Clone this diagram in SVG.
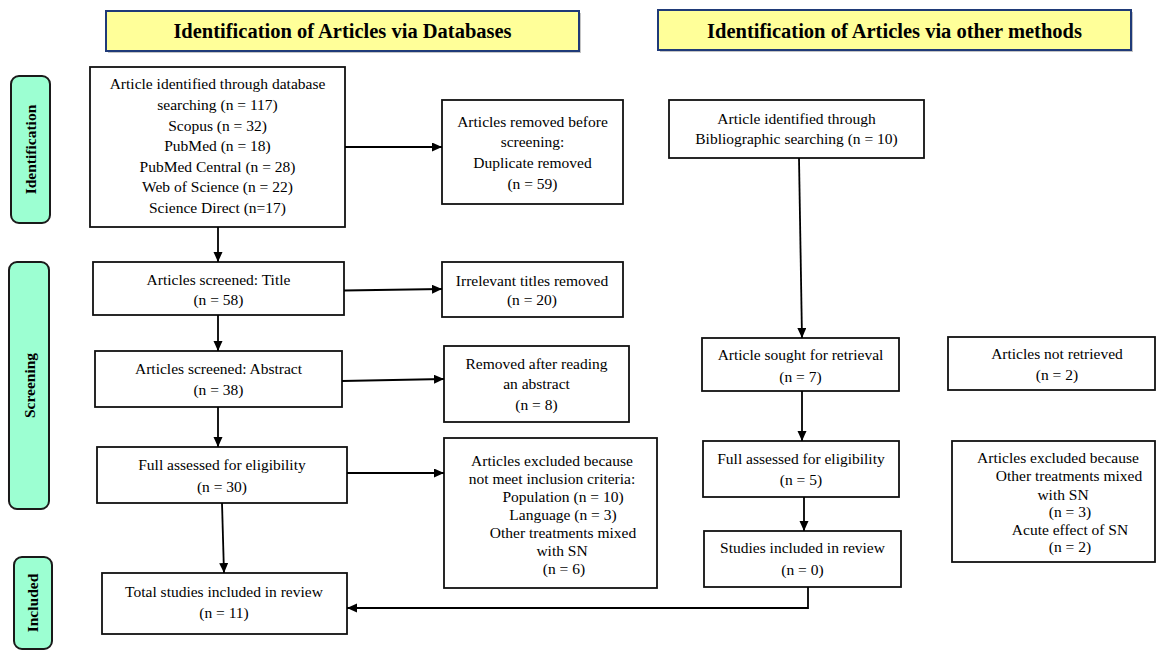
<svg xmlns="http://www.w3.org/2000/svg" width="1156" height="650" viewBox="0 0 1156 650">
<style>
text{font-family:"Liberation Serif","Times New Roman",serif;font-size:15.5px;fill:#000;text-anchor:middle}
.box{fill:#fff;stroke:#111;stroke-width:1.8}
.hdr{fill:#FFFF99;stroke:#1F3A78;stroke-width:2}
.hdrs{fill:#8a8a8a;opacity:0.5}
.hdrt{font-weight:bold;font-size:20.5px}
.lab{fill:#9CFFD2;stroke:#1a1a1a;stroke-width:2}
.labt{font-weight:bold;font-size:15.5px}
.con{fill:none;stroke:#000;stroke-width:1.8}
</style>
<defs>
<marker id="ah" markerUnits="userSpaceOnUse" markerWidth="11" markerHeight="10" refX="10" refY="4.5" orient="auto">
<path d="M0,0 L10,4.5 L0,9 z" fill="#000"/>
</marker>
</defs>

<g id="header-db">
<rect class="hdrs" x="108" y="13" width="473" height="40"/>
<rect class="hdr" x="106" y="11" width="473" height="40"/>
<text class="hdrt" x="342.5" y="38">Identification of Articles via Databases</text>
</g>
<g id="header-other">
<rect class="hdrs" x="660" y="12" width="473" height="40"/>
<rect class="hdr" x="658" y="10" width="473" height="40"/>
<text class="hdrt" x="894.5" y="37.5">Identification of Articles via other methods</text>
</g>

<g id="label-identification">
<rect class="lab" x="11" y="76" width="39" height="147" rx="8"/>
<text class="labt" transform="translate(36,149.5) rotate(-90)">Identification</text>
</g>
<g id="label-screening">
<rect class="lab" x="9" y="262" width="40" height="247" rx="8"/>
<text class="labt" transform="translate(35,385.5) rotate(-90)">Screening</text>
</g>
<g id="label-included">
<rect class="lab" x="14" y="557" width="38" height="92" rx="8"/>
<text class="labt" transform="translate(38,603) rotate(-90)">Included</text>
</g>

<g id="db-identified">
<rect class="box" x="90" y="67" width="255" height="160"/>
<text x="217.5" y="89">Article identified through database</text>
<text x="217.5" y="110">searching (n = 117)</text>
<text x="217.5" y="130.5">Scopus (n = 32)</text>
<text x="217.5" y="151">PubMed (n = 18)</text>
<text x="217.5" y="171.5">PubMed Central (n = 28)</text>
<text x="217.5" y="192">Web of Science (n = 22)</text>
<text x="217.5" y="212.5">Science Direct (n=17)</text>
</g>
<g id="removed-before">
<rect class="box" x="442" y="100" width="181" height="104"/>
<text x="532.5" y="127">Articles removed before</text>
<text x="532.5" y="147">screening:</text>
<text x="532.5" y="167.5">Duplicate removed</text>
<text x="532.5" y="188.5">(n = 59)</text>
</g>
<g id="biblio-identified">
<rect class="box" x="669" y="100" width="255" height="58"/>
<text x="796.5" y="124">Article identified through</text>
<text x="796.5" y="143.5">Bibliographic searching (n = 10)</text>
</g>
<g id="screened-title">
<rect class="box" x="93" y="262" width="251" height="53"/>
<text x="218.5" y="284.5">Articles screened: Title</text>
<text x="218.5" y="304.5">(n = 58)</text>
</g>
<g id="irrelevant-titles">
<rect class="box" x="442" y="262" width="181" height="55"/>
<text x="532" y="286">Irrelevant titles removed</text>
<text x="532" y="304.5">(n = 20)</text>
</g>
<g id="screened-abstract">
<rect class="box" x="95" y="351" width="247" height="56"/>
<text x="218.5" y="373.5">Articles screened: Abstract</text>
<text x="218.5" y="395">(n = 38)</text>
</g>
<g id="removed-abstract">
<rect class="box" x="444" y="346" width="185" height="76"/>
<text x="536.5" y="368.5">Removed after reading</text>
<text x="536.5" y="388.5">an abstract</text>
<text x="536.5" y="410">(n = 8)</text>
</g>
<g id="sought-retrieval">
<rect class="box" x="702" y="338" width="197" height="53"/>
<text x="800.5" y="360">Article sought for retrieval</text>
<text x="800.5" y="382">(n = 7)</text>
</g>
<g id="not-retrieved">
<rect class="box" x="948" y="337" width="207" height="53"/>
<text x="1057" y="359">Articles not retrieved</text>
<text x="1057" y="380">(n = 2)</text>
</g>
<g id="full-eligibility-db">
<rect class="box" x="97" y="447" width="250" height="56"/>
<text x="222" y="469.5">Full assessed for eligibility</text>
<text x="222" y="492">(n = 30)</text>
</g>
<g id="excluded-db">
<rect class="box" x="444" y="438" width="213" height="150"/>
<text x="552" y="466">Articles excluded because</text>
<text x="552" y="484">not meet inclusion criteria:</text>
<text x="563" y="502">Population (n = 10)</text>
<text x="563" y="520">Language (n = 3)</text>
<text x="563" y="538">Other treatments mixed</text>
<text x="562" y="556">with SN</text>
<text x="564" y="574">(n = 6)</text>
</g>
<g id="full-eligibility-other">
<rect class="box" x="703" y="441" width="196" height="56"/>
<text x="801" y="463.5">Full assessed for eligibility</text>
<text x="801" y="485">(n = 5)</text>
</g>
<g id="excluded-other">
<rect class="box" x="952" y="441" width="203" height="121"/>
<text x="1058" y="463">Articles excluded because</text>
<text x="1069" y="481">Other treatments mixed</text>
<text x="1063" y="500">with SN</text>
<text x="1070" y="517">(n = 3)</text>
<text x="1070" y="534.5">Acute effect of SN</text>
<text x="1070" y="552">(n = 2)</text>
</g>
<g id="studies-included-other">
<rect class="box" x="704" y="531" width="197" height="56"/>
<text x="802.5" y="553">Studies included in review</text>
<text x="802.5" y="575">(n = 0)</text>
</g>
<g id="total-included">
<rect class="box" x="102" y="573" width="245" height="61"/>
<text x="224" y="597">Total studies included in review</text>
<text x="224" y="617.5">(n = 11)</text>
</g>

<g id="connectors">
<path class="con" d="M218,227 L218,262" marker-end="url(#ah)"/>
<path class="con" d="M345,147 L442,147" marker-end="url(#ah)"/>
<path class="con" d="M218,315 L218,351" marker-end="url(#ah)"/>
<path class="con" d="M344,290.5 L442,289" marker-end="url(#ah)"/>
<path class="con" d="M342,381 L444,379" marker-end="url(#ah)"/>
<path class="con" d="M218,407 L218,447" marker-end="url(#ah)"/>
<path class="con" d="M347,473 L444,473" marker-end="url(#ah)"/>
<path class="con" d="M222,503 L224,573" marker-end="url(#ah)"/>
<path class="con" d="M799,158 L802,338" marker-end="url(#ah)"/>
<path class="con" d="M802,391 L802,441" marker-end="url(#ah)"/>
<path class="con" d="M804,497 L804,531" marker-end="url(#ah)"/>
<path class="con" d="M808,587 L808,608 L347,608" marker-end="url(#ah)"/>
</g>
</svg>
